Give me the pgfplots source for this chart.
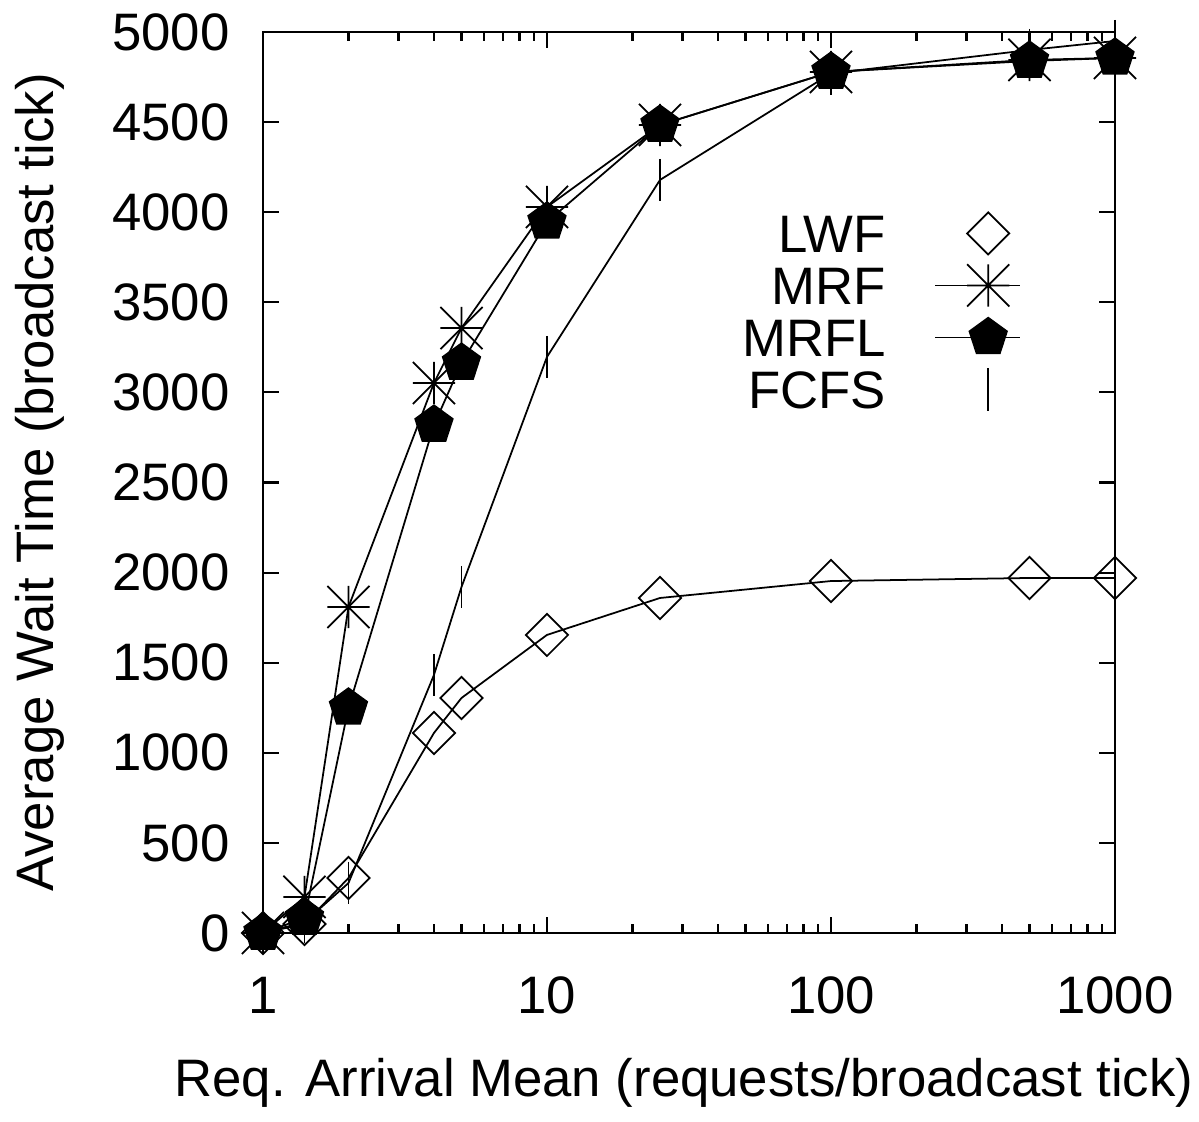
\documentclass[border=0pt]{standalone}
\usepackage{fontspec}
\setmainfont{Liberation Sans}
\usepackage{pgfplots}
\pgfplotsset{compat=1.18}

% gnuplot-like point types
\pgfdeclareplotmark{gpstar}{%
  \pgfpathmoveto{\pgfqpoint{-\pgfplotmarksize}{0pt}}\pgfpathlineto{\pgfqpoint{\pgfplotmarksize}{0pt}}%
  \pgfpathmoveto{\pgfqpoint{0pt}{-\pgfplotmarksize}}\pgfpathlineto{\pgfqpoint{0pt}{\pgfplotmarksize}}%
  \pgfpathmoveto{\pgfqpoint{-\pgfplotmarksize}{-\pgfplotmarksize}}\pgfpathlineto{\pgfqpoint{\pgfplotmarksize}{\pgfplotmarksize}}%
  \pgfpathmoveto{\pgfqpoint{-\pgfplotmarksize}{\pgfplotmarksize}}\pgfpathlineto{\pgfqpoint{\pgfplotmarksize}{-\pgfplotmarksize}}%
  \pgfusepathqstroke}
\pgfdeclareplotmark{gpdiamond}{%
  \pgfpathmoveto{\pgfqpoint{\pgfplotmarksize}{0pt}}%
  \pgfpathlineto{\pgfqpoint{0pt}{\pgfplotmarksize}}%
  \pgfpathlineto{\pgfqpoint{-\pgfplotmarksize}{0pt}}%
  \pgfpathlineto{\pgfqpoint{0pt}{-\pgfplotmarksize}}%
  \pgfpathclose\pgfusepathqstroke}

\pgfplotsset{
  gp line legend/.style={legend image code/.code={%
      \path (0cm,0cm);
      \draw[##1] (0.45cm,0cm) -- (1.3cm,0cm);
      \draw[##1, only marks] plot coordinates {(0.98cm,0cm)};}},
  gp mark legend/.style={legend image code/.code={%
      \path (0cm,0cm) (1.3cm,0cm);
      \draw[##1, only marks] plot coordinates {(0.98cm,0cm)};}},
}

\pgfplotstableread{
x     lwf   mrf   mrfl  fcfs
1     0     0     0     0
1.4   50    200   83    60
2     305   1809  1249  277
4     1110  3052  2819  1432
5     1304  3357  3163  1920
10    1654  4029  3946  3197
25    1859  4484  4484  4179
100   1953  4778  4778  4770
500   1970  4845  4839  4900
1000  1970  4856  4856  4950
}\waittime

\begin{document}
\begin{tikzpicture}
\begin{axis}[
    name=ax,
    scale only axis,
    width=8.52cm, height=9.01cm,
    xmode=log,
    xmin=1, xmax=1000,
    ymin=0, ymax=5000,
    xtick={1,10,100,1000},
    xticklabels={1,10,100,1000},
    ytick={0,500,...,5000},
    scaled y ticks=false,
    yticklabel style={/pgf/number format/1000 sep={}, xshift=-6pt},
    xticklabel style={yshift=-9pt},
    /pgf/number format/assume math mode=true,
    tick align=inside,
    major tick length=4.5pt,
    minor tick length=2.5pt,
    axis line style={line width=0.8pt},
    every tick/.style={black, line width=0.6pt},
    font=\fontsize{15}{18}\selectfont,
    xlabel={Req. Arrival Mean (requests/broadcast tick)},
    ylabel={Average Wait Time (broadcast tick)},
    xlabel style={at={(axis description cs:0.494,-0.166)}, anchor=center, inner sep=0pt},
    ylabel style={at={(axis description cs:-0.262,0.5)}, anchor=center, inner sep=0pt},
    legend plot pos=right,
    legend cell align=right,
    legend style={draw=none, fill=none, at={(rel axis cs:0.903,0.810)}, anchor=north east,
                  row sep=2pt, nodes={inner sep=1pt, text height=10.8pt, text depth=0pt},
                  font=\fontsize{15}{18}\selectfont},
    gp line legend,
    every axis plot/.append style={black, line width=0.5pt},
]
\addplot[mark=gpdiamond, mark size=6pt, gp mark legend] table[x=x, y=lwf] {\waittime};
\addlegendentry{LWF}
\addplot[mark=gpstar, mark size=6pt] table[x=x, y=mrf] {\waittime};
\addlegendentry{MRF}
\addplot[mark=pentagon*, mark size=5.6pt] table[x=x, y=mrfl] {\waittime};
\addlegendentry{MRFL}
\addplot[mark=|, mark size=6pt, gp mark legend] table[x=x, y=fcfs] {\waittime};
\addlegendentry{FCFS}
\end{axis}
\path (ax.south west) ++(-2.63cm,-1.89cm) coordinate (bbsw);
\path (ax.north east) ++(0.84cm,0.32cm) coordinate (bbne);
\path (bbsw) rectangle (bbne);
\end{tikzpicture}
\end{document}
